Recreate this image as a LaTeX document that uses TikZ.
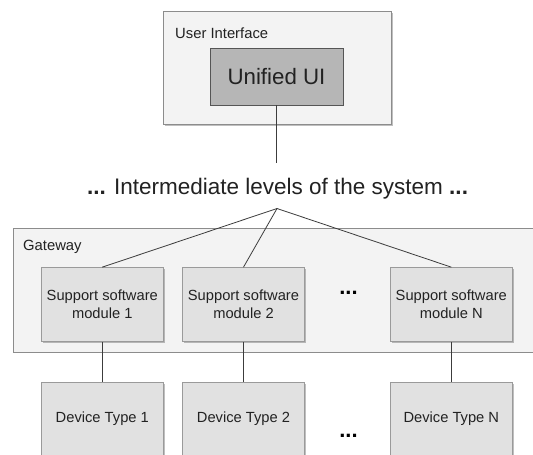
\documentclass[tikz,border=0pt]{standalone}
\usepackage{fontspec}
\setmainfont{Liberation Sans}
\usetikzlibrary{shadows}
\definecolor{outerfill}{HTML}{F3F3F3}
\definecolor{outerdraw}{HTML}{8C8C8C}
\definecolor{modfill}{HTML}{E1E1E1}
\definecolor{moddraw}{HTML}{9A9A9A}
\definecolor{uifill}{HTML}{B6B6B6}
\definecolor{uidraw}{HTML}{555555}
\definecolor{linecol}{HTML}{3C3C3C}
\definecolor{textcol}{HTML}{222222}
\tikzset{
  shad/.style={drop shadow={shadow xshift=1.5pt,shadow yshift=-1.5pt,fill=black,opacity=0.25}},
  outerbox/.style={draw=outerdraw,fill=outerfill,line width=0.8pt,shad},
  modbox/.style={draw=moddraw,fill=modfill,line width=0.7pt,minimum width=122pt,minimum height=74pt,
    inner sep=0pt,align=center,font=\fontsize{14.7}{17.5}\selectfont,text=textcol,shad},
  uibox/.style={draw=uidraw,fill=uifill,line width=0.8pt,minimum width=133pt,minimum height=57pt,
    inner sep=0pt,font=\fontsize{22.3}{26}\selectfont,text=textcol},
  lbl/.style={anchor=west,inner sep=0pt,font=\fontsize{14.8}{17}\selectfont,text=textcol},
  dots/.style={inner sep=0pt,anchor=base,font=\fontsize{22}{26}\selectfont\bfseries,text=black},
  conn/.style={draw=linecol,line width=0.8pt},
}
\begin{document}
\begin{tikzpicture}[x=1pt,y=-1pt]
\useasboundingbox (0,0) rectangle (533,455);
\clip (0,0) rectangle (533,455);
\fill[white] (0,0) rectangle (533,455);
% User interface container
\node[outerbox,minimum width=228pt,minimum height=113pt,inner sep=0pt] (ui) at (277,67.5) {};
\node[lbl] (uilbl) at (175,33) {User Interface};
\node[uibox] (unified) at (276.5,76.5) {Unified UI};
% intermediate
\node[inner sep=0pt,font=\fontsize{22.5}{26}\selectfont,text=textcol,anchor=base] (inter) at (277.5,194)
  {\textbf{...} Intermediate levels of the system \textbf{...}};
\draw[conn] (unified.south) -- (unified.south |- 0,163);
\coordinate (apex) at (277,208.5);
% Gateway
\node[outerbox,minimum width=540pt,minimum height=124pt,inner sep=0pt,anchor=north west] (gw) at (12.5,227.5) {};
\node[lbl] (gwlbl) at (23,247) {Gateway};
\node[modbox] (m1) at (102.3,304.5) {Support software\\module 1};
\node[modbox] (m2) at (243.5,304.5) {Support software\\module 2};
\node[modbox] (mn) at (451.3,304.5) {Support software\\module N};
\node[dots] (mdots) at (348.5,294.5) {...};
% devices
\node[modbox] (d1) at (102.3,419) {Device Type 1};
\node[modbox] (d2) at (243.5,419) {Device Type 2};
\node[modbox] (dn) at (451.3,419) {Device Type N};
\node[dots] (ddots) at (348.5,437.5) {...};
% connectors
\draw[conn] (apex) -- (m1.north);
\draw[conn] (apex) -- (m2.north);
\draw[conn] (apex) -- (mn.north);
\draw[conn] (m1.south) -- (d1.north);
\draw[conn] (m2.south) -- (d2.north);
\draw[conn] (mn.south) -- (dn.north);
\end{tikzpicture}
\end{document}
